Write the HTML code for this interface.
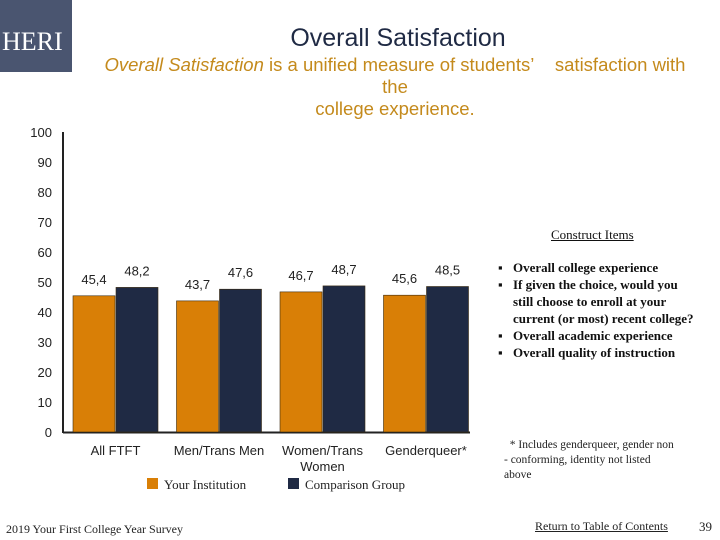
<!DOCTYPE html>
<html><head><meta charset="utf-8">
<style>
html,body{margin:0;padding:0;background:#fff;}
body{width:720px;height:540px;position:relative;overflow:hidden;font-family:"Liberation Sans",sans-serif;}
.abs{position:absolute;}
#logo{left:0;top:0;width:72px;height:72px;background:#4a5570;color:#fff;font-family:"Liberation Serif",serif;font-size:26px;line-height:84px;text-align:left;padding-left:2px;box-sizing:border-box;}
#title{left:190px;top:24px;width:416px;text-align:center;font-size:25px;color:#1f2a44;}
#sub{left:80px;top:54px;width:630px;text-align:center;font-size:18.5px;color:#c48a1c;line-height:22px;}
.serif{font-family:"Liberation Serif",serif;}
#construct{left:551px;top:227px;font-size:13px;text-decoration:underline;color:#111;}
#items{left:498px;top:259px;font-size:13px;color:#111;line-height:17px;font-weight:bold;}
#items div{position:relative;padding-left:15px;}
#items div span{position:absolute;left:0;}
#note{left:504px;top:438px;font-size:11.5px;color:#222;line-height:15px;width:200px;}
#footer{left:6px;top:522px;font-size:12px;color:#222;}
#toc{left:535px;top:519px;font-size:12px;color:#222;text-decoration:underline;}
#pg{left:699px;top:519px;font-size:13px;color:#222;}
</style></head>
<body>
<div id="logo" class="abs">HERI</div>
<div id="title" class="abs">Overall Satisfaction</div>
<div id="sub" class="abs"><i>Overall Satisfaction</i> is a unified measure of students’&nbsp;&nbsp;&nbsp; satisfaction with<br>the<br>college experience.</div>

<svg id="chart" class="abs" style="left:0;top:0" width="720" height="540"></svg>

<div id="construct" class="abs serif">Construct Items</div>
<div id="items" class="abs serif">
<div><span>▪</span>Overall college experience</div>
<div><span>▪</span>If given the choice, would you<br>still choose to enroll at your<br>current (or most) recent college?</div>
<div><span>▪</span>Overall academic experience</div>
<div><span>▪</span>Overall quality of instruction</div>
</div>
<div id="note" class="abs serif">&nbsp;&nbsp;* Includes genderqueer, gender non<br>- conforming, identity not listed<br>above</div>
<div id="footer" class="abs serif">2019 Your First College Year Survey</div>
<div id="toc" class="abs serif">Return to Table of Contents</div>
<div id="pg" class="abs serif">39</div>

<script>
const categories = ["All FTFT", "Men/Trans Men", "Women/Trans|Women", "Genderqueer*"];
const institution = [45.4, 43.7, 46.7, 45.6];
const comparison = [48.2, 47.6, 48.7, 48.5];
const yTicks = [0, 10, 20, 30, 40, 50, 60, 70, 80, 90, 100];

const NS = "http://www.w3.org/2000/svg";
const svg = document.getElementById("chart");
const y0 = 432, y1 = 132, axisX = 63, axisEnd = 470;
const yScale = v => y0 - (v / 100) * (y0 - y1);
const groupStart = i => 73 + i * 103.5;
const barW = 42;

function mk(tag, attrs, parent) {
  const e = document.createElementNS(NS, tag);
  for (const k in attrs) e.setAttribute(k, attrs[k]);
  (parent || svg).appendChild(e);
  return e;
}

const yAxis = mk("line", {x1: axisX, x2: axisX, y1: y1, y2: y0 + 1, stroke: "#222", "stroke-width": 2});


const xAxis = mk("line", {x1: axisX, x2: axisEnd, y1: y0 + 0.5, y2: y0 + 0.5, stroke: "#222", "stroke-width": 2});



yTicks.forEach(t => {
  const tx = mk("text", {x: 52, y: yScale(t) + 5, "text-anchor": "end", "font-size": 13, fill: "#222", "font-family": "Liberation Sans, sans-serif"});
  tx.textContent = t;
  
  
});

const fmt = v => v.toFixed(1).replace(".", ",");

categories.forEach((c, i) => {
  const gx = groupStart(i);
  [[institution[i], "#d97f06", gx, "bar-institution"], [comparison[i], "#1f2a44", gx + barW + 1, "bar-comparison"]].forEach(([v, col, x, nm]) => {
    const r = mk("rect", {x: x, y: yScale(v), width: barW, height: y0 - yScale(v), fill: col, stroke: "#3a2a10", "stroke-width": 0.6});
    
    
    const lb = mk("text", {x: x + barW / 2, y: yScale(v) - 12, "text-anchor": "middle", "font-size": 13, fill: "#222", "font-family": "Liberation Sans, sans-serif"});
    lb.textContent = fmt(v);
    
    
  });
  c.split("|").forEach((line, j) => {
    const ct = mk("text", {x: gx + barW + 0.5, y: 455 + j * 16, "text-anchor": "middle", "font-size": 13, fill: "#222", "font-family": "Liberation Sans, sans-serif"});
    ct.textContent = line;
    
    
  });
});

const legend = [["Your Institution", "#d97f06", 147], ["Comparison Group", "#1f2a44", 288]];
legend.forEach(([txt, col, x]) => {
  const g = mk("g", {});
  
  
  mk("rect", {x: x, y: 478, width: 11, height: 11, fill: col}, g);
  const t = mk("text", {x: x + 17, y: 489, "font-size": 13, fill: "#222", "font-family": "Liberation Serif, serif"}, g);
  t.textContent = txt;
});
</script>
</body></html>
